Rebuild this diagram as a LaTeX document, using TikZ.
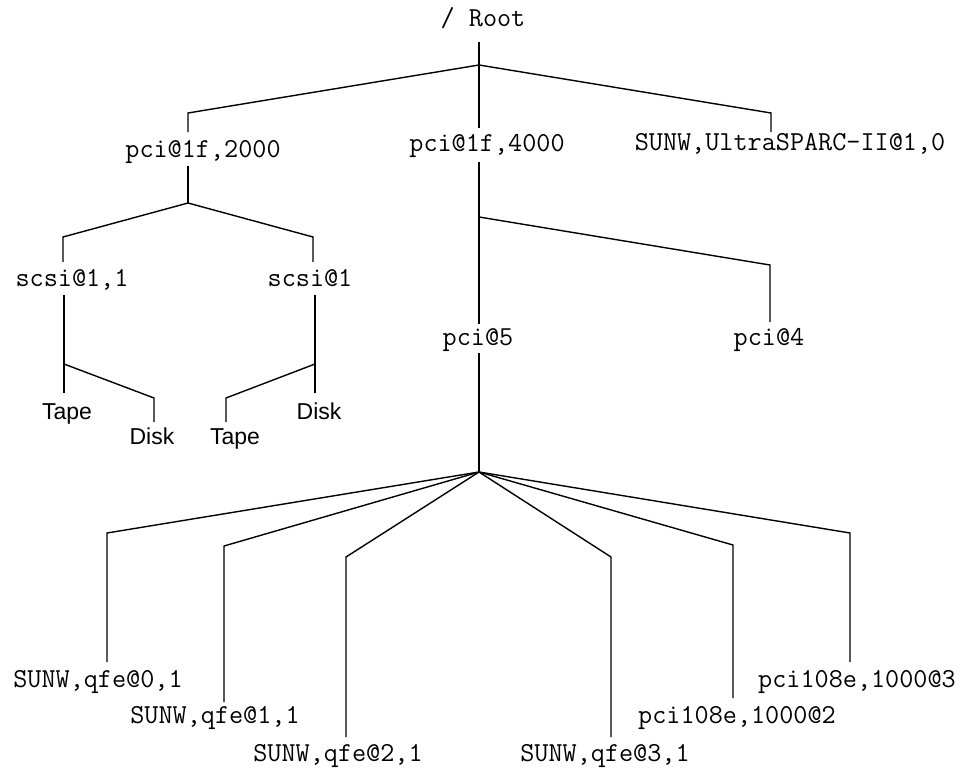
\documentclass[tikz,border=0pt]{standalone}
\usepackage{fontspec}
\setsansfont{Liberation Sans}
\usepackage{tikz}
\usetikzlibrary{calc}

\begin{document}
\begin{tikzpicture}[
    x=1pt, y=-1pt,
    dev/.style={anchor=base, inner sep=0pt, font=\fontsize{27.4}{30}\selectfont\ttfamily},
    unit/.style={anchor=base, inner sep=0pt, font=\fontsize{23}{27}\selectfont\sffamily},
    wire/.style={line width=1.4pt, line join=miter}
]
\useasboundingbox (0,0) rectangle (969,768);

% Device names
\node[dev] (root) at (483,27) {/ Root};
\node[dev] (p2000) at (203,157) {pci@1f,2000};
\node[dev] (p4000) at (487,151) {pci@1f,4000};
\node[dev] (cpu) at (790,150) {SUNW,UltraSPARC-II@1,0};
\node[dev] (scsia) at (72,286) {scsi@1,1};
\node[dev] (scsib) at (310,286) {scsi@1};
\node[dev] (pci5) at (478,345) {pci@5};
\node[dev] (pci4) at (769,345) {pci@4};
\node[dev] (qfe0) at (98,687) {SUNW,qfe@0,1};
\node[dev] (qfe1) at (215,723) {SUNW,qfe@1,1};
\node[dev] (qfe2) at (338,761) {SUNW,qfe@2,1};
\node[dev] (qfe3) at (605,761) {SUNW,qfe@3,1};
\node[dev] (ge2) at (737,723) {pci108e,1000@2};
\node[dev] (ge3) at (857,687) {pci108e,1000@3};

% Tape and disk units
\node[unit] (tapea) at (67,419) {Tape};
\node[unit] (diska) at (152,444) {Disk};
\node[unit] (tapeb) at (235,444) {Tape};
\node[unit] (diskb) at (319,419) {Disk};

% Junctions
\coordinate (jroot) at (479,65);
\coordinate (j2000) at (188,203);
\coordinate (j4000) at (479,217);
\coordinate (ja) at (64,364);
\coordinate (jb) at (315,364);
\coordinate (j5) at (479,472);

% Root level
\draw[wire] ($(jroot |- root.base)+(0,15)$) -- (jroot);
\draw[wire] (jroot) -- (188,113) -- ($(j2000 |- p2000.base)+(0,-25)$);
\draw[wire] (jroot) -- ($(jroot |- p4000.base)+(0,-23)$);
\draw[wire] (jroot) -- (771,113) -- ($(771,0 |- cpu.base)+(0,-18)$);

% pci@1f,2000
\draw[wire] ($(j2000 |- p2000.base)+(0,9)$) -- (j2000);
\draw[wire] (j2000) -- (63,237) -- ($(63,0 |- scsia.base)+(0,-24)$);
\draw[wire] (j2000) -- (313,237) -- ($(313,0 |- scsib.base)+(0,-24)$);
\draw[wire] ($(ja |- scsia.base)+(0,9)$) -- (ja) -- ($(ja |- tapea.base)+(0,-26)$);
\draw[wire] (ja) -- (154,398) -- ($(154,0 |- diska.base)+(0,-22)$);
\draw[wire] ($(jb |- scsib.base)+(0,9)$) -- (jb) -- ($(jb |- diskb.base)+(0,-26)$);
\draw[wire] (jb) -- (226,398) -- ($(226,0 |- tapeb.base)+(0,-22)$);

% pci@1f,4000
\draw[wire] ($(j4000 |- p4000.base)+(0,11)$) -- (j4000) -- ($(j4000 |- pci5.base)+(0,-21)$);
\draw[wire] (j4000) -- (770,265) -- ($(770,0 |- pci4.base)+(0,-23)$);

% pci@5
\draw[wire] ($(j5 |- pci5.base)+(0,8)$) -- (j5);
\draw[wire] (j5) -- (107,533) -- ($(107,0 |- qfe0.base)+(0,-25)$);
\draw[wire] (j5) -- (224,546) -- ($(224,0 |- qfe1.base)+(0,-21)$);
\draw[wire] (j5) -- (346,557) -- ($(346,0 |- qfe2.base)+(0,-24)$);
\draw[wire] (j5) -- (611,557) -- ($(611,0 |- qfe3.base)+(0,-24)$);
\draw[wire] (j5) -- (733,545) -- ($(733,0 |- ge2.base)+(0,-25)$);
\draw[wire] (j5) -- (850,533) -- ($(850,0 |- ge3.base)+(0,-25)$);

\end{tikzpicture}
\end{document}
